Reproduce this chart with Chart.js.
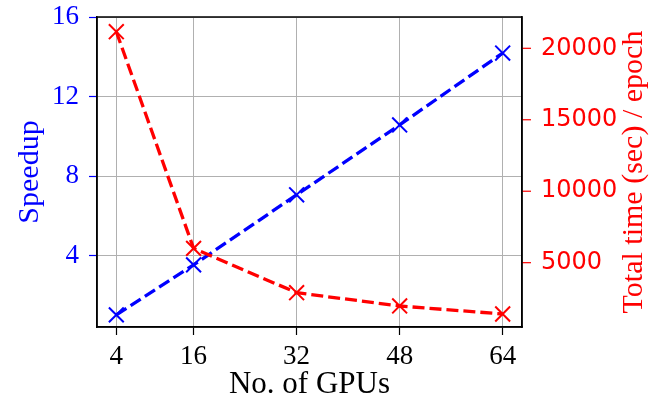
<!DOCTYPE html>
<html>
<head>
<meta charset="utf-8">
<script src="https://cdn.jsdelivr.net/npm/chart.js@4.4.0/dist/chart.umd.min.js"></script>
<style>
body { margin: 0; background: #fff; }
#wrap { width: 659px; height: 400px; }
</style>
</head>
<body>
<div id="wrap"><canvas id="speedupChart"></canvas></div>
<script>
// values
const gpus = [4, 16, 32, 48, 64];
const speedup = [1.04, 3.55, 7.07, 10.58, 14.19];
const totalTime = [21160, 6000, 2900, 1970, 1410];
const xTicks = [4, 16, 32, 48, 64];
const speedupTicks = [4, 8, 12, 16];
const timeTicks = [5000, 10000, 15000, 20000];

const serif = "'Liberation Serif', 'Times New Roman', serif";

function fixTicks(list) {
  return function (scale) {
    scale.ticks = list.map(v => ({ value: v }));
  };
}
const plain = v => String(v);

// fixed axis sizes, no extra room for half labels
function fitY(w) {
  return function (s) {
    s.width = w;
    s.paddingTop = 0;
    s.paddingBottom = 0;
  };
}

// frame round the plot, red ticks on the right, right axis title (reads bottom to top)
const framePlugin = {
  id: "frame",
  afterDraw(chart) {
    const { ctx, chartArea: a } = chart;
    const yTime = chart.scales.yTime;
    ctx.save();
    ctx.strokeStyle = "#ff0000";
    ctx.lineWidth = 1.2;
    yTime.ticks.forEach(t => {
      const y = yTime.getPixelForValue(t.value);
      ctx.beginPath();
      ctx.moveTo(a.right, y);
      ctx.lineTo(a.right + 9, y);
      ctx.stroke();
    });
    ctx.strokeStyle = "#000";
    ctx.lineWidth = 1.5;
    ctx.strokeRect(a.left, a.top, a.right - a.left, a.bottom - a.top);
    ctx.translate(634, (a.top + a.bottom) / 2);
    ctx.rotate(-Math.PI / 2);
    ctx.fillStyle = "#ff0000";
    ctx.font = "30px " + serif;
    ctx.textAlign = "center";
    ctx.textBaseline = "middle";
    ctx.fillText("Total time (sec) / epoch", 0, 0);
    ctx.restore();
  }
};

new Chart(document.getElementById("speedupChart"), {
  type: "line",
  data: {
    datasets: [
      {
        label: "Total time",
        data: gpus.map((g, i) => ({ x: g, y: totalTime[i] })),
        yAxisID: "yTime",
        borderColor: "#ff0000",
        backgroundColor: "#ff0000",
        borderWidth: 3.3,
        borderDash: [12, 5],
        pointStyle: "crossRot",
        pointRadius: 10.5,
        pointBorderWidth: 2,
        pointBorderColor: "#ff0000",
        order: 0,
        clip: false
      },
      {
        label: "Speedup",
        data: gpus.map((g, i) => ({ x: g, y: speedup[i] })),
        yAxisID: "ySpeed",
        borderColor: "#0000ff",
        backgroundColor: "#0000ff",
        borderWidth: 3.3,
        borderDash: [12, 5],
        pointStyle: "crossRot",
        pointRadius: 10.5,
        pointBorderWidth: 2,
        pointBorderColor: "#0000ff",
        order: 1,
        clip: false
      }
    ]
  },
  options: {
    responsive: true,
    maintainAspectRatio: false,
    animation: false,
    layout: { padding: { top: 17, left: 0, right: 0, bottom: 0 } },
    plugins: {
      legend: { display: false },
      tooltip: { enabled: false }
    },
    scales: {
      x: {
        type: "linear",
        min: 1,
        max: 67,
        afterBuildTicks: fixTicks(xTicks),
        afterFit: s => { s.height = 73; s.paddingLeft = 0; s.paddingRight = 0; },
        grid: { color: "#b0b0b0", lineWidth: 1, tickColor: "#000", tickWidth: 1.2, tickLength: 8 },
        border: { color: "#000", width: 1.5 },
        ticks: { color: "#000", padding: 6, font: { family: serif, size: 27 }, maxRotation: 0, callback: plain },
        title: {
          display: true,
          text: "No. of GPUs",
          color: "#000",
          font: { family: serif, size: 31, lineHeight: 1 },
          padding: 0
        }
      },
      ySpeed: {
        type: "linear",
        position: "left",
        min: 0.43,
        max: 16,
        afterBuildTicks: fixTicks(speedupTicks),
        afterFit: fitY(97),
        grid: { color: "#b0b0b0", lineWidth: 1, tickColor: "#0000ff", tickWidth: 1.2, tickLength: 8 },
        border: { color: "#000", width: 1.5 },
        ticks: { color: "#0000ff", padding: 10, font: { family: serif, size: 27 }, callback: plain },
        title: {
          display: true,
          text: "Speedup",
          color: "#0000ff",
          font: { family: serif, size: 30, lineHeight: 1 },
          padding: { top: 15, bottom: 0 }
        }
      },
      yTime: {
        type: "linear",
        position: "right",
        min: 500,
        max: 22190,
        afterBuildTicks: fixTicks(timeTicks),
        afterFit: fitY(137),
        grid: { drawOnChartArea: false, tickLength: 9 },
        border: { color: "#000", width: 1.5 },
        ticks: { color: "#ff0000", padding: 10, font: { family: "'DejaVu Sans', sans-serif", size: 24 }, callback: plain }
      }
    }
  },
  plugins: [framePlugin]
});
</script>
</body>
</html>
